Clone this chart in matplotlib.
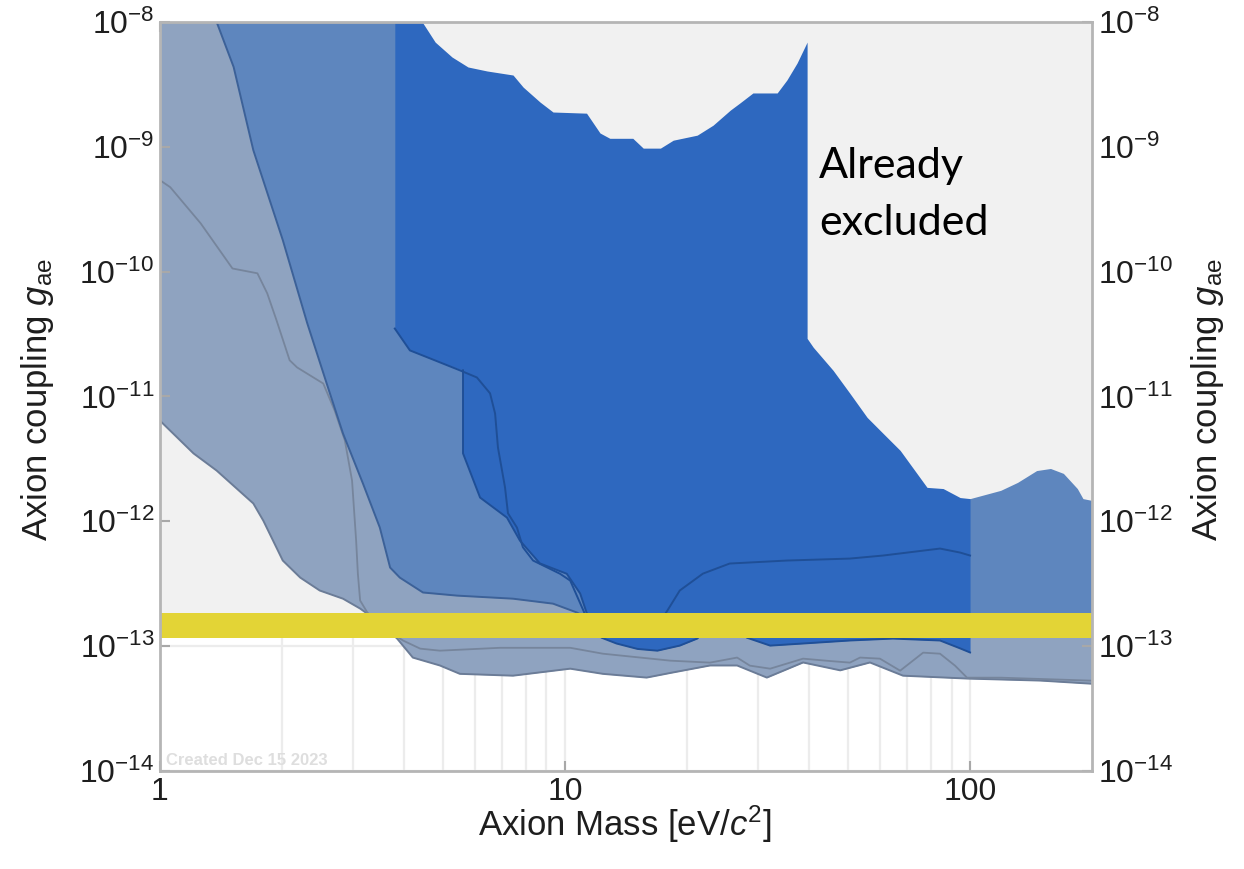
import numpy as np
import matplotlib.pyplot as plt
from matplotlib.ticker import NullLocator

plt.rcParams['font.family'] = ['Liberation Sans', 'DejaVu Sans']
plt.rcParams['mathtext.fontset'] = 'custom'
plt.rcParams['mathtext.rm'] = 'Liberation Sans'
plt.rcParams['mathtext.it'] = 'Liberation Sans:italic'
plt.rcParams['mathtext.bf'] = 'Liberation Sans:bold'

# plot range: axion mass [eV], coupling g_ae
m_min, m_max = 1.0, 200.0
g_min, g_max = 1e-14, 1e-8

# stellar-cooling type bound, everything above is shaded grey
bound_g = 1.2e-13
# band of interest
band_lo, band_hi = 1.17e-13, 1.86e-13

# outer envelope of all projections (lightest shading)
env_m = [1.0, 1.21, 1.38, 1.70, 1.80, 2.01, 2.22, 2.48, 2.83, 3.12, 3.49, 3.85,
         4.21, 4.91, 5.50, 7.44, 10.3, 12.4, 15.9, 18.2, 22.8, 26.6, 31.5, 38.7,
         47.8, 56.6, 68.3, 98.3, 149, 200]
env_g = [6.4e-12, 3.5e-12, 2.55e-12, 1.39e-12, 1.01e-12, 4.85e-13, 3.54e-13,
         2.79e-13, 2.40e-13, 2.0e-13, 1.54e-13, 1.15e-13, 8.1e-14, 7.0e-14,
         6.0e-14, 5.8e-14, 6.6e-14, 6.0e-14, 5.6e-14, 6.1e-14, 7.0e-14, 7.0e-14,
         5.6e-14, 7.4e-14, 6.4e-14, 7.4e-14, 5.8e-14, 5.5e-14, 5.3e-14, 5.0e-14]

# single-experiment curve drawn inside the envelope
curve_m = [1.0, 1.06, 1.26, 1.51, 1.74, 1.84, 1.94, 2.09, 2.18, 2.53, 2.70, 2.86,
           2.98, 3.05, 3.08, 3.12, 3.25, 3.59, 3.98, 4.39, 4.91, 6.91, 10.3, 12.4,
           18.2, 22.8, 26.6, 28.6, 32.1, 38.7, 45.1, 50.5, 53.5, 59.9, 67.2, 76.6,
           84.3, 91.8, 98.3, 119, 200]
curve_g = [5.4e-10, 4.75e-10, 2.44e-10, 1.06e-10, 9.7e-11, 6.7e-11, 4.07e-11,
           1.95e-11, 1.71e-11, 1.27e-11, 7.7e-12, 4.45e-12, 2.12e-12, 7.0e-13,
           3.81e-13, 2.32e-13, 1.86e-13, 1.38e-13, 1.11e-13, 9.55e-14, 9.2e-14,
           9.7e-14, 9.7e-14, 8.7e-14, 7.65e-14, 7.38e-14, 8.1e-14, 6.98e-14,
           6.6e-14, 7.94e-14, 7.6e-14, 7.38e-14, 8.1e-14, 7.94e-14, 6.36e-14,
           8.87e-14, 8.7e-14, 6.98e-14, 5.59e-14, 5.59e-14, 5.29e-14]

# second projection (medium blue)
mid_m = [1.38, 1.52, 1.70, 2.01, 2.31, 2.58, 2.83, 3.17, 3.49, 3.70, 3.91, 4.46,
         5.41, 7.44, 9.34, 10.7, 12.2, 200]
mid_g = [1e-8, 4.36e-9, 9.4e-10, 1.79e-10, 3.86e-11, 1.27e-11, 5.06e-12,
         2.01e-12, 8.9e-13, 4.26e-13, 3.54e-13, 2.69e-13, 2.54e-13, 2.4e-13,
         2.19e-13, 1.86e-13, 1.46e-13, 1.46e-13]

# best projections (bright blue), lower edge of their union
hi_m = [3.8, 4.14, 4.64, 5.60, 5.60, 6.17, 7.19, 7.74, 8.67, 10.1, 10.9, 11.3,
        12.3, 13.4, 15.1, 16.9, 19.2, 21.2, 22.8, 27.0, 28.1, 32.1, 38.7, 50.5,
        64.5, 84.3, 94.5, 100]
hi_g = [3.5e-11, 2.34e-11, 2.02e-11, 1.62e-11, 3.5e-12, 1.55e-12, 1.07e-12,
        7.0e-13, 4.6e-13, 3.8e-13, 2.64e-13, 1.86e-13, 1.17e-13, 1.05e-13,
        9.5e-14, 9.2e-14, 1.01e-13, 1.15e-13, 1.46e-13, 1.46e-13, 1.17e-13,
        1.01e-13, 1.05e-13, 1.11e-13, 1.15e-13, 1.11e-13, 9.6e-14, 8.9e-14]

# edges of the individual bright-blue regions
hi1_m = [3.8, 4.14, 4.64, 5.50, 6.06, 6.53, 6.72, 6.83, 7.11, 7.23, 7.61, 7.87,
         8.34, 9.72, 10.3, 11.1, 11.5]
hi1_g = [3.5e-11, 2.34e-11, 2.02e-11, 1.62e-11, 1.42e-11, 1.06e-11, 7.3e-12,
         3.9e-12, 1.87e-12, 1.16e-12, 8.9e-13, 6.2e-13, 4.85e-13, 3.8e-13,
         3.35e-13, 1.93e-13, 1.46e-13]
hi3_m = [17.0, 17.9, 19.2, 21.9, 25.5, 35.3, 50.5, 61.0, 84.3, 94.5, 100]
hi3_g = [1.5e-13, 1.93e-13, 2.79e-13, 3.81e-13, 4.59e-13, 4.85e-13, 5.03e-13,
         5.32e-13, 6.05e-13, 5.62e-13, 5.32e-13]

# existing limits, region above is already excluded
excl_m = [4.44, 4.78, 5.26, 5.76, 6.42, 7.44, 7.88, 8.68, 9.34, 11.3, 12.2, 12.9,
          14.7, 15.6, 17.2, 18.5, 21.2, 23.2, 25.6, 27.0, 29.1, 33.4, 35.3, 37.4,
          39.6, 39.6, 41.0, 45.9, 50.5, 55.7, 61.0, 67.2, 78.3, 85.8, 94.5, 100,
          119, 131, 146, 158, 170, 184, 190, 200]
excl_g = [1e-8, 6.9e-9, 5.24e-9, 4.36e-9, 4.05e-9, 3.76e-9, 3.01e-9, 2.28e-9,
          1.9e-9, 1.86e-9, 1.29e-9, 1.17e-9, 1.17e-9, 9.76e-10, 9.76e-10,
          1.13e-9, 1.24e-9, 1.49e-9, 1.97e-9, 2.24e-9, 2.7e-9, 2.7e-9, 3.43e-9,
          4.69e-9, 6.9e-9, 2.92e-11, 2.48e-11, 1.62e-11, 1.06e-11, 6.8e-12,
          5.06e-12, 3.7e-12, 1.87e-12, 1.83e-12, 1.55e-12, 1.52e-12, 1.77e-12,
          2.05e-12, 2.55e-12, 2.65e-12, 2.42e-12, 1.83e-12, 1.52e-12, 1.47e-12]

x_ticks = [1, 10, 100]
x_labels = ['1', '10', '100']
y_ticks = [1e-14, 1e-13, 1e-12, 1e-11, 1e-10, 1e-9, 1e-8]

c_grey = '#f1f1f1'
c_light = '#8fa3c0'
c_mid = '#5e86be'
c_hi = '#2e68bf'
c_band = '#e3d436'

fig = plt.figure(figsize=(12.44, 8.69), dpi=100)
ax = fig.add_axes([0.1286, 0.1128, 0.7492, 0.8619])
ax.set_xscale('log')
ax.set_yscale('log')
ax.set_xlim(m_min, m_max)
ax.set_ylim(g_min, g_max)

# faint grid, only seen where nothing is shaded
grid_m = [k * 10 ** d for d in (0, 1) for k in range(2, 11)]
for m in grid_m:
    ax.axvline(m, color='#ececec', lw=1.6, zorder=0.2)
for g in y_ticks:
    ax.axhline(g, color='#ececec', lw=1.6, zorder=0.2)
ax.axhspan(bound_g, g_max, color=c_grey, lw=0, zorder=0.5)

ax.fill_between(env_m, env_g, g_max, color=c_light, lw=0, zorder=1)
ax.fill_between(mid_m, mid_g, g_max, color=c_mid, lw=0, zorder=2)
ax.fill_between(hi_m, hi_g, g_max, color=c_hi, lw=0, zorder=3)
ax.fill_between(excl_m, excl_g, g_max, color=c_grey, lw=0, zorder=4)

ax.plot(env_m, env_g, color='#6b7c97', lw=1.4, zorder=5)
ax.plot(curve_m, curve_g, color='#76859c', lw=1.3, zorder=5)
ax.plot(mid_m, mid_g, color='#3c6198', lw=1.4, zorder=5)
ax.plot(hi1_m, hi1_g, color='#1f4f97', lw=1.4, zorder=5)
ax.plot(hi_m[3:], hi_g[3:], color='#1f4f97', lw=1.4, zorder=5)
ax.plot(hi3_m, hi3_g, color='#1f4f97', lw=1.4, zorder=5)

ax.axhspan(band_lo, band_hi, color=c_band, lw=0, zorder=6)

ax.text(0.707, 0.792, 'Already', transform=ax.transAxes, fontsize=31,
        family=['Lato', 'DejaVu Sans'], ha='left', va='baseline', zorder=7)
ax.text(0.707, 0.716, 'excluded', transform=ax.transAxes, fontsize=31,
        family=['Lato', 'DejaVu Sans'], ha='left', va='baseline', zorder=7)
ax.text(0.0064, 0.008, 'Created Dec 15 2023', transform=ax.transAxes,
        fontsize=12, fontweight='bold', color='#dedede', ha='left',
        va='baseline', zorder=0.3)

ax.set_xticks(x_ticks)
ax.set_xticklabels(x_labels)
ax.set_yticks(y_ticks)
ax.xaxis.set_minor_locator(NullLocator())
ax.yaxis.set_minor_locator(NullLocator())
ax.tick_params(axis='both', which='major', direction='in', length=7, width=1.5,
               color='#a8a8a8', labelsize=23, labelcolor='#1e1e1e', pad=4,
               top=True, right=True, labelright=True)
for side in ax.spines.values():
    side.set_color('#b5b5b5')
    side.set_linewidth(2)
    side.set_zorder(8)

ylab = r'Axion coupling $g_{\mathrm{ae}}$'
fig.text(0.030, 0.54, ylab, rotation=90, fontsize=25, color='#1e1e1e',
         ha='center', va='center')
fig.text(0.971, 0.54, ylab, rotation=90, fontsize=25, color='#1e1e1e',
         ha='center', va='center')
fig.text(0.502, 0.038, r'Axion Mass [eV/$c^2$]', fontsize=25, color='#1e1e1e',
         ha='center', va='baseline')

fig.savefig('out.png', dpi=100)
